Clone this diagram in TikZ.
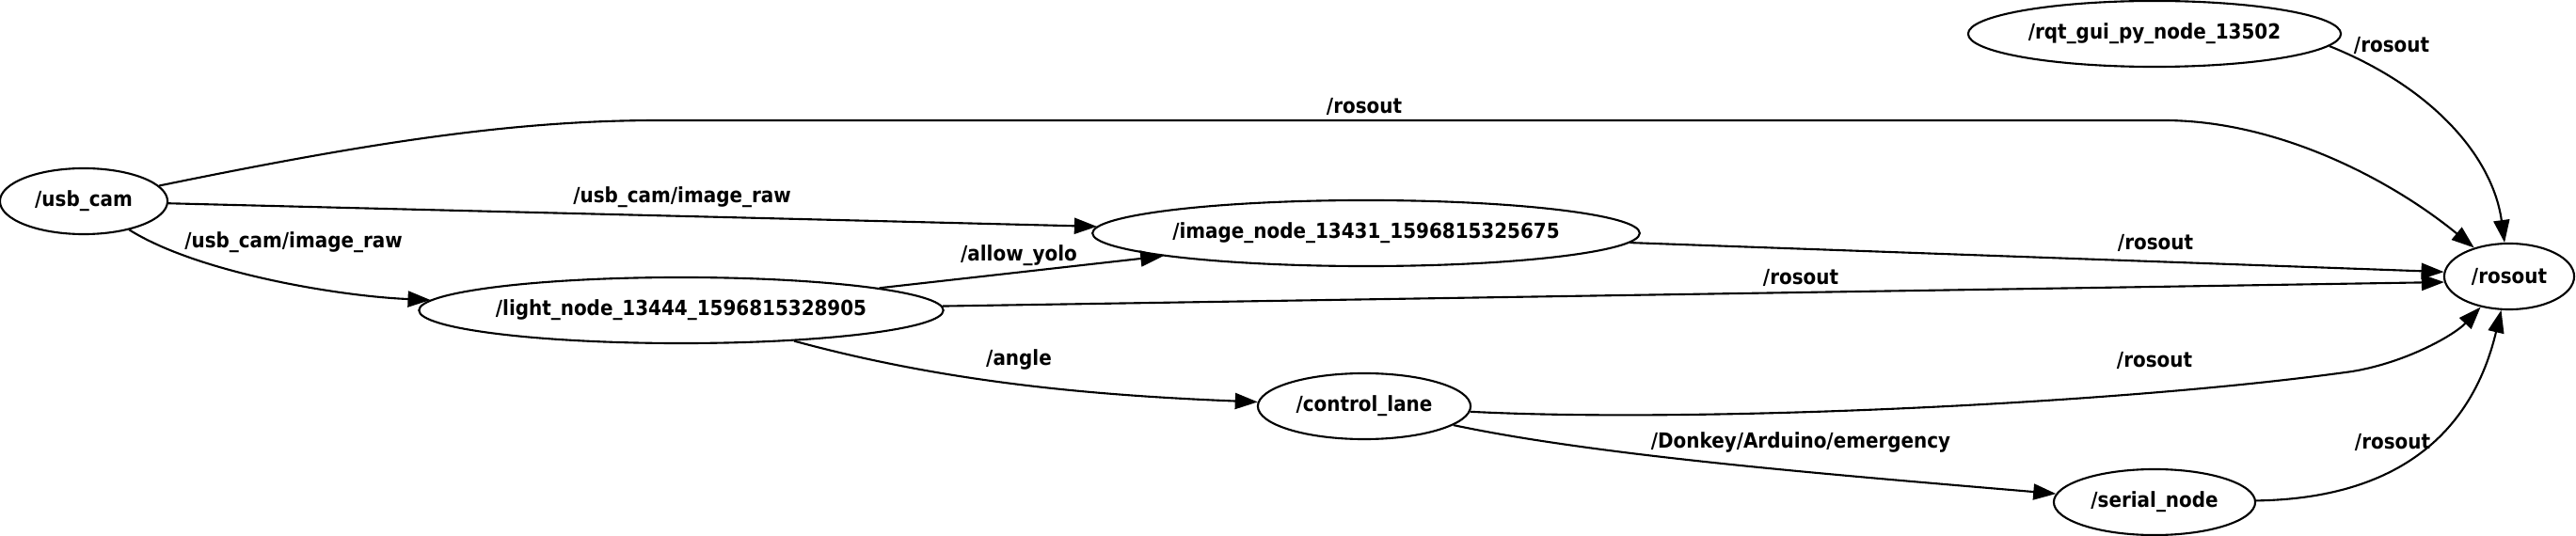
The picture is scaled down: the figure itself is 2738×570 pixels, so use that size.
\documentclass[tikz,border=0pt]{standalone}
\usepackage{fontspec}
\setmainfont{DejaVu Sans Condensed}
\usetikzlibrary{shapes.geometric,arrows.meta}

\begin{document}
\begin{tikzpicture}[x=0.01cm,y=-0.01cm,
  rnode/.style={ellipse,draw,line width=0.6pt,inner sep=0pt,minimum height=0.70cm},
  lbl/.style={inner sep=0pt},
  every node/.style={font=\fontsize{6.3}{7}\selectfont\bfseries},
  every path/.style={line width=0.6pt},
  arr/.style={-{Triangle[length=0.24cm,width=0.17cm]}}]

\useasboundingbox (0,0) rectangle (2738,570);

 \node[rnode,minimum width=1.78cm] (cam) at (89,214) {/usb\_cam};
  \node[rnode,minimum width=5.54cm] (light) at (724,330) {/light\_node\_13444\_1596815328905};
   \node[rnode,minimum width=5.80cm] (img) at (1452,248) {/image\_node\_13431\_1596815325675};
    \node[rnode,minimum width=3.96cm] (rqt) at (2290,36) {/rqt\_gui\_py\_node\_13502};
     \node[rnode,minimum width=1.38cm] (ros) at (2667,294) {/rosout};
      \node[rnode,minimum width=2.26cm] (ctl) at (1450,432) {/control\_lane};
       \node[rnode,minimum width=2.14cm] (ser) at (2290,534) {/serial\_node};

 \draw[arr] (cam) .. controls (400,150) and (550,128) .. (700,128) -- (2300,128)
   .. controls (2420,128) and (2540,190) .. (ros) node[lbl] at (1450,113) {/rosout};
 \draw[arr] (cam) -- (img) node[lbl] at (725,210) {/usb\_cam/image\_raw};
 \draw[arr] (cam) .. controls (210,290) and (360,315) .. (light) node[lbl] at (312,258) {/usb\_cam/image\_raw};
 \draw[arr] (light) -- (img) node[lbl] at (1083,272) {/allow\_yolo};
 \draw[arr] (light) -- (ros.185) node[lbl] at (1914,295) {/rosout};
 \draw[arr] (img) -- (ros.176) node[lbl] at (2291,258) {/rosout};
 \draw[arr] (light) .. controls (1000,405) and (1150,420) .. (ctl) node[lbl] at (1083,382) {/angle};
 \draw[arr] (ctl) .. controls (1800,450) and (2250,430) .. (2500,395)
   .. controls (2560,385) and (2610,355) .. (ros) node[lbl] at (2290,383) {/rosout};
 \draw[arr] (ctl) .. controls (1700,485) and (1950,505) .. (ser) node[lbl] at (1914,470) {/Donkey/Arduino/emergency};
 \draw[arr] (ser) .. controls (2560,530) and (2630,450) .. (ros) node[lbl] at (2543,470) {/rosout};
 \draw[arr] (rqt.-4) .. controls (2590,95) and (2650,170) .. (ros) node[lbl] at (2542,48) {/rosout};

\end{tikzpicture}
\end{document}
